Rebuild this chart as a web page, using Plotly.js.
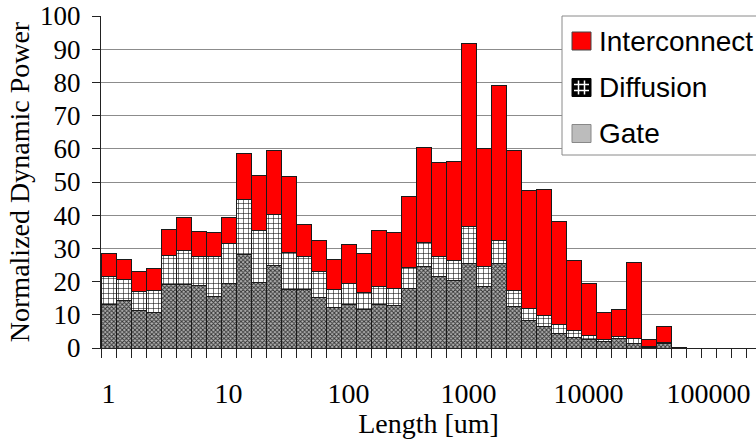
<!DOCTYPE html>
<html><head><meta charset="utf-8">
<script src="https://cdn.plot.ly/plotly-3.0.1.min.js"></script>
<style>html,body{margin:0;padding:0;background:#fff}#chart{width:756px;height:439px}</style>
</head><body><div id="chart"></div>
<script>
// bin index (8 bins per decade, bin 0 = 1 um)
const bins = [0,1,2,3,4,5,6,7,8,9,10,11,12,13,14,15,16,17,18,19,20,21,22,23,24,25,26,27,28,29,30,31,32,33,34,35,36,37,38];
const gate = [13.2,14.3,11.4,10.6,19.2,19.0,18.9,15.6,19.5,28.3,19.8,25.0,17.5,17.6,15.1,12.1,13.0,11.7,13.1,12.7,17.8,24.4,21.4,20.4,25.5,18.4,25.6,12.6,8.2,6.6,4.3,3.2,2.6,1.9,2.9,1.3,0.2,1.3,0];
const diffusion = [8.2,6.4,5.6,6.8,8.8,10.5,8.6,11.9,12.0,16.3,15.6,15.2,11.2,9.9,8.0,5.6,6.5,5.0,5.4,5.1,6.3,7.5,6.1,5.9,11.0,6.1,6.8,4.8,3.6,3.1,2.7,2.0,1.3,0.7,0.6,1.5,0.3,0.4,0];
const interconnect = [7.1,6.0,6.0,6.6,7.7,9.8,7.6,7.2,7.8,13.9,16.7,19.3,23.1,9.7,9.3,9.0,11.7,11.9,16.9,17.0,21.6,28.5,28.5,29.9,55.3,35.7,46.8,42.1,35.6,38.0,31.0,21.2,15.4,8.2,8.1,23.0,2.0,4.9,0.3];
const tickPositions = [0,8,16,24,32,40];
const tickLabels = ['1','10','100','1000','10000','100000'];
const seriesNames = ['Interconnect','Diffusion','Gate'];

const W = 756, H = 439;
const L = 101, R = 756, T = 16, B = 348;
const px = x => (x - L) / (R - L);
const py = y => (B - y) / (B - T);

const serif = 'Liberation Serif, Times New Roman, serif';
const sans = 'Liberation Sans, Arial, sans-serif';
const outline = {color:'#1a1a1a', width:1};

const traces = [
  {type:'bar', x:bins, y:gate, name:seriesNames[2], showlegend:false,
   marker:{color:'#a8a8a8', line:outline,
     pattern:{shape:'x', size:3, solidity:0.5, fgcolor:'#303030', bgcolor:'#b4b4b4'}}},
  {type:'bar', x:bins, y:diffusion, name:seriesNames[1], showlegend:false,
   marker:{color:'#ffffff', line:outline,
     pattern:{shape:'+', size:5, solidity:0.2, fgcolor:'#000', bgcolor:'#fff'}}},
  {type:'bar', x:bins, y:interconnect, name:seriesNames[0], showlegend:false,
   marker:{color:'#ff0000', line:outline}}
];

const shapes = [];
const annotations = [];
// legend box
shapes.push({type:'rect', xref:'paper', yref:'paper', x0:px(562), x1:px(770), y0:py(155), y1:py(16),
  fillcolor:'#ffffff', line:{color:'#8a8a8a', width:1}, layer:'above'});
const sy = [41, 87.5, 133.5];
// interconnect swatch
shapes.push({type:'rect', xref:'paper', yref:'paper', x0:px(572), x1:px(591), y0:py(sy[0]+9), y1:py(sy[0]-9),
  fillcolor:'#ff0000', line:{color:'#444', width:1}, layer:'above'});
// diffusion swatch
shapes.push({type:'rect', xref:'paper', yref:'paper', x0:px(572), x1:px(591), y0:py(sy[1]+9), y1:py(sy[1]-9),
  fillcolor:'#000000', line:{color:'#000', width:1}, layer:'above'});
[578.5, 584.5].forEach(xx => shapes.push({type:'line', xref:'paper', yref:'paper', x0:px(xx), x1:px(xx),
  y0:py(sy[1]+7), y1:py(sy[1]-7), line:{color:'#fff', width:1.5}, layer:'above'}));
[sy[1]-3, sy[1]+3].forEach(yy => shapes.push({type:'line', xref:'paper', yref:'paper', x0:px(574), x1:px(589),
  y0:py(yy), y1:py(yy), line:{color:'#fff', width:1.5}, layer:'above'}));
// gate swatch
shapes.push({type:'rect', xref:'paper', yref:'paper', x0:px(572), x1:px(591), y0:py(sy[2]+9), y1:py(sy[2]-9),
  fillcolor:'#bcbcbc', line:{color:'#888', width:1}, layer:'above'});
seriesNames.forEach((n,i) => annotations.push({xref:'paper', yref:'paper', x:px(597), y:py(sy[i]),
  xanchor:'left', yanchor:'middle', text:n, showarrow:false, font:{family:sans, size:28, color:'#000'}}));

const layout = {
  width:W, height:H,
  margin:{l:L, r:W-R, t:T, b:H-B},
  paper_bgcolor:'#fff', plot_bgcolor:'#fff',
  barmode:'stack', bargap:0,
  showlegend:false,
  xaxis:{range:[-0.5, -0.5 + (R-L)/15], showgrid:false, zeroline:false,
    showline:true, linecolor:'#222', linewidth:1,
    tickmode:'array', tickvals:tickPositions, ticktext:tickLabels,
    ticks:'outside', ticklen:20, tickcolor:'rgba(0,0,0,0)',
    tickfont:{family:serif, size:28, color:'#000'},
    minor:{tick0:-0.5, dtick:1, ticks:'outside', ticklen:9, tickcolor:'#222', tickwidth:1, showgrid:false},
    title:{text:'Length [um]', font:{family:serif, size:28, color:'#000'}, standoff:0}},
  yaxis:{range:[0,100], dtick:10, showgrid:true, gridcolor:'#8c8c8c', gridwidth:1, zeroline:false,
    showline:true, linecolor:'#222', linewidth:1,
    ticks:'outside', ticklen:8, tickcolor:'#222', ticklabelstandoff:6,
    tickfont:{family:serif, size:27, color:'#000'},
    title:{text:'Normalized Dynamic Power', font:{family:serif, size:28, color:'#000'}, standoff:2}},
  shapes:shapes, annotations:annotations
};
Plotly.newPlot('chart', traces, layout, {displayModeBar:false, staticPlot:true});
</script></body></html>
